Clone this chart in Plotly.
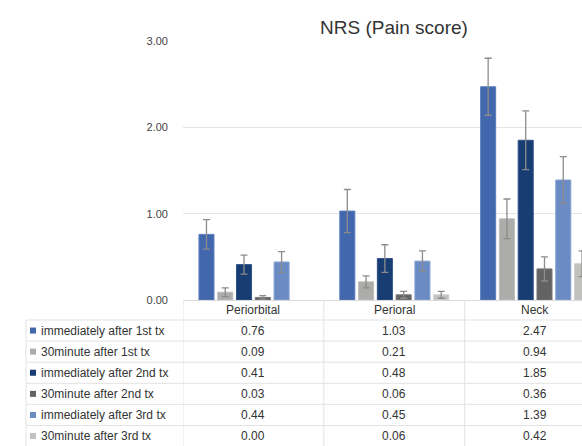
import plotly.graph_objects as go

categories = ["Periorbital", "Perioral", "Neck"]
series_names = [
    "immediately after 1st tx",
    "30minute after 1st tx",
    "immediately after 2nd tx",
    "30minute after 2nd tx",
    "immediately after 3rd tx",
    "30minute after 3rd tx",
]
s1 = [0.76, 1.03, 2.47]
s2 = [0.09, 0.21, 0.94]
s3 = [0.41, 0.48, 1.85]
s4 = [0.03, 0.06, 0.36]
s5 = [0.44, 0.45, 1.39]
s6 = [0.00, 0.06, 0.42]
e1 = [0.17, 0.25, 0.33]
e2 = [0.05, 0.07, 0.23]
e3 = [0.11, 0.16, 0.34]
e4 = [0.02, 0.04, 0.14]
e5 = [0.12, 0.12, 0.27]
e6 = [None, 0.04, 0.15]
y_ticks = [0, 1, 2, 3]
y_tick_labels = ["0.00", "1.00", "2.00", "3.00"]

values = [s1, s2, s3, s4, s5, s6]
errors = [e1, e2, e3, e4, e5, e6]
colors = ["#4267ac", "#acacaa", "#173d73", "#636363", "#6b8bc5", "#c0c0be"]
edge_colors = ["#5a7dbd", "#bcbcba", "#2c5088", "#777777", "#86a2d2", "#cfcfcd"]

W, H = 582, 446
ML, MR, MT, MB = 183, 0, 41, 146
PW, PH = W - ML - MR, H - MT - MB
FONT = "Liberation Sans, Arial, Helvetica, sans-serif"


def px_x(px):
    return (px - ML) / PW


def px_y(py):
    return (H - MB - py) / PH


fig = go.Figure()
for name, vals, errs, c, ec in zip(series_names, values, errors, colors, edge_colors):
    # missing error values are passed as "NaN" so plotly.js skips that error bar
    err_arr = ["NaN" if e is None else e for e in errs]
    fig.add_trace(go.Bar(
        x=categories, y=vals, name=name,
        marker=dict(color=c, line=dict(color=ec, width=[1 if v > 0 else 0 for v in vals])),
        error_y=dict(type="data", array=err_arr, visible=True, color="#8c8c8c",
                     thickness=1.3, width=3.5),
        showlegend=False,
    ))

shapes = []
annotations = []
line_col = "#e3e3e3"

header_top = H - MB
header_bottom = 320
row_h = 21.1
n_rows = len(series_names)

for k in range(n_rows + 1):
    yy = header_bottom + k * row_h
    shapes.append(dict(type="line", xref="paper", yref="paper",
                       x0=px_x(26), x1=1.0, y0=px_y(yy), y1=px_y(yy),
                       line=dict(color=line_col, width=1), layer="above"))
shapes.append(dict(type="line", xref="paper", yref="paper",
                   x0=px_x(26), x1=px_x(26), y0=px_y(header_bottom), y1=px_y(H + 5),
                   line=dict(color=line_col, width=1)))
for b in [-0.5, 0.5, 1.5, 2.5]:
    shapes.append(dict(type="line", xref="x", yref="paper",
                       x0=b, x1=b, y0=px_y(header_top), y1=px_y(H + 5),
                       line=dict(color=line_col, width=1)))

for i, cat in enumerate(categories):
    annotations.append(dict(x=i, y=px_y(310), xref="x", yref="paper", text=cat,
                            showarrow=False, xanchor="center", yanchor="middle",
                            font=dict(family=FONT, size=12, color="#333333")))

for r, (name, vals, c) in enumerate(zip(series_names, values, colors)):
    yc = header_bottom + (r + 0.5) * row_h
    shapes.append(dict(type="rect", xref="paper", yref="paper",
                       x0=px_x(30), x1=px_x(36), y0=px_y(yc + 3), y1=px_y(yc - 3),
                       fillcolor=c, line=dict(width=0)))
    annotations.append(dict(x=px_x(39), y=px_y(yc), xref="paper", yref="paper",
                            text=name, showarrow=False, xanchor="left", yanchor="middle",
                            font=dict(family=FONT, size=12, color="#333333")))
    for i, v in enumerate(vals):
        annotations.append(dict(x=i, y=px_y(yc), xref="x", yref="paper",
                                text=f"{v:.2f}", showarrow=False, xanchor="center",
                                yanchor="middle",
                                font=dict(family=FONT, size=12, color="#333333")))

fig.update_layout(
    width=W, height=H,
    margin=dict(l=ML, r=MR, t=MT, b=MB, autoexpand=False),
    paper_bgcolor="white", plot_bgcolor="white",
    barmode="group", bargap=0.2, bargroupgap=0.2,
    title=dict(text="NRS (Pain score)", xref="paper", x=px_x(394), xanchor="center",
               yref="container", y=1 - 27 / H, yanchor="middle",
               font=dict(family=FONT, size=19, color="#333333")),
    xaxis=dict(range=[-0.5, 2.333], showticklabels=False, showgrid=False,
               zeroline=False, showline=False, ticks=""),
    yaxis=dict(range=[0, 3], tickvals=y_ticks, ticktext=y_tick_labels,
               showgrid=True, gridcolor="#e5e5e5", gridwidth=1,
               zeroline=True, zerolinecolor="#dadada", zerolinewidth=1,
               showline=False, ticks="", ticklabelstandoff=14,
               tickfont=dict(family=FONT, size=11, color="#444444")),
    shapes=shapes, annotations=annotations,
)

fig.write_html("out.html", config={"displayModeBar": False},
               post_script="document.body.style.margin='0';document.body.style.overflow='hidden';")
